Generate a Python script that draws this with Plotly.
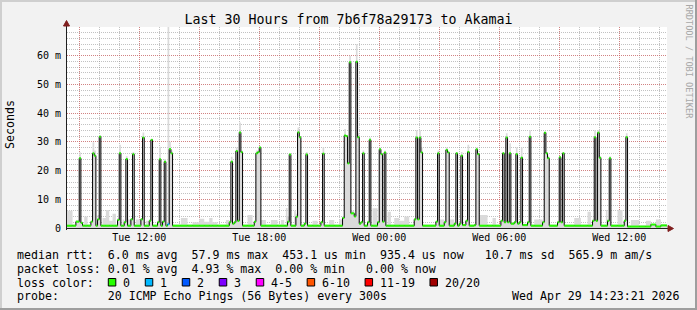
import plotly.graph_objects as go

# ---------------- data ----------------
tue_times = ["08:20", "08:40", "08:50", "09:00", "09:05", "09:10", "09:15", "09:25", "09:35", "09:40",
             "09:45", "09:50", "09:55", "10:00", "10:05", "10:10", "10:20", "10:30", "10:40", "10:50",
             "10:55", "11:00", "11:05", "11:10", "11:15", "11:20", "11:25", "11:35", "11:40", "11:45",
             "11:50", "12:05", "12:10", "12:15", "12:20", "12:30", "12:35", "12:40", "12:55", "13:00",
             "13:05", "13:10", "13:15", "13:20", "13:25", "13:30", "13:35", "13:40", "14:05", "14:25",
             "14:40", "15:00", "15:15", "15:30", "15:40", "15:55", "16:20", "16:30", "16:35", "16:40",
             "16:45", "16:50", "16:55", "17:00", "17:05", "17:10", "17:25", "17:40", "17:45", "17:50",
             "17:55", "18:00", "18:05", "18:20", "18:35", "18:55", "19:05", "19:15", "19:20", "19:25",
             "19:30", "19:35", "19:45", "19:50", "19:55", "20:00", "20:05", "20:15", "20:20", "20:25",
             "20:40", "20:55", "21:05", "21:10", "21:15", "21:30", "21:45", "22:00", "22:10", "22:15",
             "22:20", "22:25", "22:30", "22:35", "22:45", "22:50", "22:55", "23:00", "23:05", "23:10",
             "23:15", "23:25", "23:30", "23:35", "23:40", "23:55"]
tue_median = [0.8, 0.8, 2.2, 24.3, 1.8, 0.8, 0.8, 0.8, 2.2, 26.0,
              25.2, 0.8, 3.0, 31.8, 0.8, 0.8, 0.8, 0.8, 0.8, 0.8,
              2.8, 26.0, 0.8, 0.8, 2.0, 24.0, 0.8, 3.0, 25.7, 0.8,
              0.8, 3.0, 31.5, 0.8, 0.8, 2.5, 30.7, 0.8, 2.0, 23.9,
              0.8, 2.2, 23.1, 0.8, 1.3, 27.5, 26.0, 0.8, 0.8, 0.8,
              0.8, 0.8, 0.8, 0.8, 0.8, 0.8, 0.8, 2.0, 23.1, 1.5,
              2.0, 26.8, 2.5, 33.3, 26.4, 0.8, 0.8, 0.8, 2.2, 26.0,
              26.4, 28.0, 0.8, 0.8, 0.8, 0.8, 0.8, 0.8, 0.8, 2.2,
              25.6, 0.8, 0.8, 3.9, 33.3, 31.6, 0.8, 1.5, 25.6, 0.8,
              0.8, 0.8, 2.0, 25.9, 0.8, 0.8, 0.8, 0.8, 3.5, 32.2,
              32.0, 22.5, 57.7, 5.1, 4.0, 57.9, 31.6, 1.5, 2.0, 26.0,
              0.8, 2.0, 30.7, 0.8, 0.8, 2.0]
tue_smoke = [6.0, 1.2, 2.8, 26.4, 2.2, 1.2, 4.0, 1.2, 2.5, 29.9,
             27.0, 1.5, 4.5, 32.4, 1.2, 3.5, 6.3, 2.5, 5.0, 1.2,
             3.5, 29.0, 1.2, 3.0, 2.5, 25.0, 3.0, 3.5, 26.5, 1.2,
             3.0, 3.5, 33.3, 1.2, 2.5, 3.0, 31.0, 1.2, 2.5, 28.3,
             1.2, 2.5, 24.0, 1.2, 75.0, 30.0, 27.0, 1.2, 3.5, 1.2,
             2.0, 3.2, 2.2, 3.5, 2.0, 1.2, 2.8, 2.5, 24.8, 2.0,
             2.5, 28.0, 3.0, 36.7, 27.0, 1.2, 4.5, 1.2, 2.5, 27.0,
             27.0, 28.5, 2.8, 1.2, 2.8, 1.2, 2.8, 1.2, 7.0, 4.0,
             26.0, 1.2, 6.0, 5.0, 35.0, 32.0, 1.2, 2.0, 26.5, 1.2,
             2.5, 1.2, 2.5, 28.0, 1.2, 2.8, 1.2, 3.0, 4.0, 34.5,
             32.5, 23.0, 60.0, 6.0, 5.0, 64.0, 33.0, 2.0, 2.5, 27.0,
             1.2, 2.5, 31.5, 1.2, 6.9, 2.5]

wed_times = ["00:00", "00:05", "00:10", "00:15", "00:20", "00:25", "00:35", "00:45", "01:00", "01:15",
             "01:30", "01:45", "01:50", "01:55", "02:00", "02:05", "02:10", "02:50", "02:55", "03:00",
             "03:15", "03:20", "03:25", "03:30", "03:45", "03:50", "03:55", "04:00", "04:05", "04:10",
             "04:20", "04:25", "04:30", "04:45", "04:50", "04:55", "05:00", "05:25", "05:40", "05:50",
             "06:05", "06:10", "06:15", "06:20", "06:25", "06:30", "06:35", "06:45", "06:50", "06:55",
             "07:00", "07:05", "07:10", "07:25", "07:30", "07:35", "07:45", "08:10", "08:15", "08:20",
             "08:25", "08:30", "08:55", "09:00", "09:05", "09:10", "09:15", "09:45", "10:05", "10:25",
             "10:35", "10:40", "10:45", "10:50", "10:55", "11:00", "11:05", "11:20", "11:25", "11:30",
             "11:35", "11:55", "12:10", "12:15", "12:20", "12:25", "12:35", "13:00", "13:20", "13:35",
             "13:50", "14:05", "14:20"]
wed_median = [27.4, 25.7, 2.2, 26.3, 0.8, 0.8, 0.8, 0.8, 0.8, 0.8,
              0.8, 3.0, 31.5, 3.0, 31.5, 26.3, 0.8, 2.2, 26.0, 0.8,
              2.0, 27.2, 26.3, 0.8, 1.5, 26.0, 0.8, 1.5, 25.2, 1.0,
              2.5, 26.5, 0.8, 1.0, 27.4, 25.7, 0.8, 0.8, 0.8, 0.8,
              2.5, 26.0, 2.0, 31.5, 2.0, 26.0, 1.5, 2.0, 25.7, 1.5,
              2.0, 24.5, 1.0, 2.0, 31.8, 0.8, 0.8, 2.0, 33.2, 26.0,
              24.3, 0.8, 2.0, 24.6, 2.0, 26.0, 0.8, 0.8, 0.8, 0.8,
              0.8, 2.5, 31.6, 2.5, 33.2, 24.5, 0.8, 0.8, 2.5, 24.3,
              0.8, 0.8, 0.8, 2.5, 31.6, 0.5, 0.5, 0.5, 0.5, 1.2,
              0.5, 0.9, 0.9]
wed_smoke = [28.0, 26.0, 2.5, 27.0, 1.2, 5.7, 1.2, 3.5, 2.5, 4.0,
             1.2, 3.5, 34.0, 4.0, 34.0, 28.0, 1.2, 2.5, 27.0, 3.0,
             2.5, 28.0, 26.5, 3.0, 2.0, 26.5, 1.2, 2.0, 26.5, 1.5,
             3.0, 29.0, 1.2, 1.5, 28.0, 26.0, 4.5, 1.2, 3.5, 1.2,
             3.0, 26.5, 2.5, 33.0, 2.5, 29.5, 2.0, 2.5, 28.0, 2.0,
             2.5, 28.0, 1.5, 2.5, 34.0, 1.2, 3.0, 2.5, 33.5, 26.5,
             25.0, 1.2, 2.5, 25.0, 2.5, 26.5, 1.2, 3.5, 1.2, 5.7,
             1.2, 3.0, 34.0, 3.0, 34.0, 25.0, 1.2, 6.3, 3.0, 25.0,
             1.2, 6.3, 1.2, 3.0, 33.0, 1.0, 2.8, 1.0, 2.5, 1.5,
             3.0, 1.2, 1.2]

# steps with lost pings (of 20); every other step lost none
loss_step_times = ["2026-04-28 13:25"]
loss_step_counts = [1]

start_time = "2026-04-28 08:23:21"
end_time = "2026-04-29 14:23:21"

x_tick_vals = ["2026-04-28 09:00", "2026-04-28 12:00", "2026-04-28 15:00", "2026-04-28 18:00",
               "2026-04-28 21:00", "2026-04-29 00:00", "2026-04-29 03:00", "2026-04-29 06:00",
               "2026-04-29 09:00", "2026-04-29 12:00"]
x_tick_text = ["", "Tue 12:00", "", "Tue 18:00", "", "Wed 00:00", "", "Wed 06:00", "", "Wed 12:00"]
y_tick_vals = [0, 10, 20, 30, 40, 50, 60]
y_tick_text = ["0", "10 m", "20 m", "30 m", "40 m", "50 m", "60 m"]

loss_names = ["0", "1", "2", "3", "4-5", "6-10", "11-19", "20/20"]
loss_colors = ["#26ff00", "#00b8ff", "#0059ff", "#7e00ff", "#ff00ff", "#ff5500", "#ff0000", "#a00000"]
loss_upper = [0, 1, 2, 3, 5, 10, 19, 20]

title_text = "Last 30 Hours from 7b6f78a29173 to Akamai"
stat_rtt = "median rtt:  6.0 ms avg  57.9 ms max  453.1 us min  935.4 us now   10.7 ms sd  565.9 m am/s"
stat_loss = "packet loss: 0.01 % avg  4.93 % max  0.00 % min   0.00 % now"
stat_color = "loss color:"
stat_probe = "probe:       20 ICMP Echo Pings (56 Bytes) every 300s"
stamp_text = "Wed Apr 29 14:23:21 2026"
credit_text = "RRDTOOL / TOBI OETIKER"

# ---------------- build ----------------
times = ["2026-04-28 " + t for t in tue_times] + ["2026-04-29 " + t for t in wed_times]
median = tue_median + wed_median
smoke = tue_smoke + wed_smoke
loss = [0] * len(times)
for lt, lc in zip(loss_step_times, loss_step_counts):
    loss[times.index(lt)] = lc

xs = times + [end_time]
ys = median + [median[-1]]
ss = smoke + [smoke[-1]]

W, H = 697, 310
L, R, T, B = 67, 667, 27, 228
PW, PH = R - L, B - T


def px(x):
    return (x - L) / PW


def py(y):
    return (B - y) / PH


MONO = "DejaVu Sans Mono"
fig = go.Figure()

fig.add_trace(go.Scatter(x=xs, y=ss, mode="lines", line=dict(width=0, shape="hv"),
                         fill="tozeroy", fillcolor="#dadada", hoverinfo="skip", showlegend=False))
fig.add_trace(go.Scatter(x=xs, y=ys, mode="lines", line=dict(width=1, color="#000000", shape="hv"),
                         hoverinfo="skip", showlegend=False))

for ci, col in enumerate(loss_colors):
    sx, sy = [], []
    for i in range(len(times)):
        k = next(j for j, u in enumerate(loss_upper) if loss[i] <= u)
        if k != ci:
            continue
        sx += [xs[i], xs[i + 1], None]
        sy += [median[i], median[i], None]
    if sx:
        fig.add_trace(go.Scatter(x=sx, y=sy, mode="lines", line=dict(width=2, color=col),
                                 hoverinfo="skip", showlegend=False))

GRID = "rgba(143,143,143,0.55)"
MGRID = "rgba(222,79,79,0.55)"

fig.update_xaxes(type="date", range=[start_time, end_time], tickmode="array",
                 tickvals=x_tick_vals, ticktext=x_tick_text, showgrid=True, gridcolor=MGRID,
                 griddash="1px,1px", gridwidth=1, showline=False, zeroline=False, ticks="",
                 ticklabelstandoff=2,
                 tickfont=dict(family=MONO, size=10, color="#000000"),
                 minor=dict(dtick=3600000, tick0="2026-04-28 09:00", showgrid=True,
                            gridcolor=GRID, griddash="1px,1px", gridwidth=1))
fig.update_yaxes(range=[0, 70], tickmode="array", tickvals=y_tick_vals, ticktext=y_tick_text,
                 showgrid=True, gridcolor=MGRID, griddash="1px,1px", gridwidth=1,
                 showline=False, zeroline=False, ticks="", ticklabelstandoff=5,
                 tickfont=dict(family=MONO, size=10, color="#000000"),
                 minor=dict(dtick=2, tick0=0, showgrid=True, gridcolor=GRID,
                            griddash="1px,1px", gridwidth=1))

AX = "#1f1f1f"
ARROW = "#801f1f"


def rect(x0, x1, y0, y1, fill, lc=None):
    d = dict(type="rect", xref="paper", yref="paper", x0=px(x0), x1=px(x1), y0=py(y0), y1=py(y1),
             fillcolor=fill, layer="above")
    d["line"] = dict(color=lc, width=1) if lc else dict(width=0)
    return d


shapes = [
    # frame shading
    rect(0, W, 0, 2, "#cfcfcf"),
    rect(0, 2, 0, H, "#cfcfcf"),
    rect(0, W, H - 2, H, "#9e9e9e"),
    rect(W - 2, W, 0, H, "#9e9e9e"),
    # axes
    dict(type="line", xref="paper", yref="paper", x0=px(L - 1), x1=px(669), y0=py(B + 0.5), y1=py(B + 0.5),
         line=dict(color=AX, width=1)),
    dict(type="line", xref="paper", yref="paper", x0=px(L - 0.5), x1=px(L - 0.5), y0=py(B + 2), y1=py(24),
         line=dict(color=AX, width=1)),
    dict(type="path", xref="paper", yref="paper",
         path="M %f,%f L %f,%f L %f,%f Z" % (px(L - 3.5), py(26), px(L + 2.5), py(26), px(L - 0.5), py(20.5)),
         fillcolor=ARROW, line=dict(color=ARROW, width=1)),
    dict(type="path", xref="paper", yref="paper",
         path="M %f,%f L %f,%f L %f,%f Z" % (px(668), py(B - 2.5), px(668), py(B + 3.5), px(673.5), py(B + 0.5)),
         fillcolor=ARROW, line=dict(color=ARROW, width=1)),
]

annotations = []


def text(x, y, s, size=11.6, anchor="left", color="#000000", angle=0, yanchor="middle"):
    annotations.append(dict(x=px(x), y=py(y), xref="paper", yref="paper", text=s, showarrow=False,
                            xanchor=anchor, yanchor=yanchor, borderpad=0, textangle=angle,
                            font=dict(family=MONO, size=size, color=color)))


text(10, 125, "Seconds", size=11.6, anchor="center", angle=-90)
text(15.5, 255, stat_rtt.replace(" ", "&nbsp;"))
text(15.5, 268.5, stat_loss.replace(" ", "&nbsp;"))
text(15.5, 282.5, stat_color.replace(" ", "&nbsp;"))
text(15.5, 296, stat_probe.replace(" ", "&nbsp;"))
text(681, 296, stamp_text.replace(" ", "&nbsp;"), anchor="right")
text(688.5, 62, credit_text.replace(" ", "&nbsp;"), size=8.6, anchor="center", color="#a8a8a8", angle=90)

bx = 108.3
for name, col in zip(loss_names, loss_colors):
    shapes.append(rect(bx, bx + 7.5, 278.5, 286, col, "#000000"))
    text(bx + 14, 282.5, name)
    bx += 15 + len(name) * 6.98 + 15

fig.update_layout(
    width=W, height=H, margin=dict(l=L, r=W - R, t=T, b=H - B, autoexpand=False),
    paper_bgcolor="#f2f2f2", plot_bgcolor="#ffffff",
    title=dict(text=title_text, x=348.5 / W, xanchor="center", y=1 - 19 / H, yanchor="middle",
               xref="container", yref="container",
               font=dict(family=MONO, size=13.3, color="#000000")),
    shapes=shapes, annotations=annotations, showlegend=False,
)

fig.write_html("out.html")
